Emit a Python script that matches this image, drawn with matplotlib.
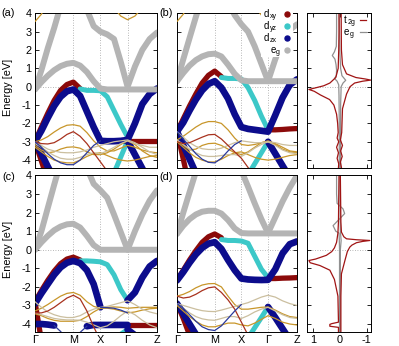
import numpy as np
import matplotlib
matplotlib.use('Agg')
import matplotlib.pyplot as plt
from matplotlib.patches import Rectangle

plt.rcParams['font.family'] = ['Liberation Sans', 'DejaVu Sans']
plt.rcParams['axes.unicode_minus'] = False
plt.rcParams['font.size'] = 7.8

# sample points along the k-path
kpts = [0.0, 0.236, 0.471, 0.707, 0.943, 1.179, 1.414, 1.664, 1.914, 2.164,
        2.414, 2.664, 2.914, 3.164, 3.414, 3.686, 3.957, 4.229, 4.5]
sym_k = [0.0, 1.414, 2.414, 3.414, 4.5]
sym_labels = ['Γ', 'M', 'X', 'Γ', 'Z']

# ---- panel (a) : (start index, energies) ----
a_xy = [(0, [-3.0, -2.2, -1.45, -0.75, -0.2, 0.12, 0.25, -0.1]),
        (14, [-2.95, -2.95, -2.95, -2.95, -2.95]),
        (0, [-3.0, -4.05, -5.1])]
a_yz = [(7, [-0.12, -0.2, -0.2, -0.22, -0.55, -1.3, -2.05, -2.75]),
        (12, [-4.7, -3.83, -2.95])]
a_zx = [(0, [-3.0, -2.4, -1.7, -1.05, -0.55, -0.25, -0.15, -0.5, -1.35, -2.2,
             -2.95, -2.97, -2.97, -2.95, -2.9, -2.0, -0.95, -0.4, -0.1]),
        (0, [-3.0, -3.65, -4.35, -5.0]),
        (14, [-2.95, -3.7, -4.45, -5.2])]
a_eg = [(0, [-0.15, 0.25, 0.6, 0.9, 1.12, 1.25, 1.3, 1.15, 0.8, 0.3, -0.1,
             -0.15, -0.15, -0.15, -0.15, -0.15, -0.15, -0.15, -0.15]),
        (0, [-0.15, 0.9, 2.1, 3.2, 4.4, 5.3, 5.6, 5.3, 4.2, 3.3, 3.0, 2.85,
             2.6, 1.35, 0.0, 1.1, 2.0, 2.6, 2.95])]
a_gold = [(0, [3.55, 3.95, 4.6, 5.2, 5.5, 5.5, 5.5, 5.5, 5.5, 5.5, 5.3, 4.8,
               4.3, 3.85, 3.65, 3.85, 4.3, 4.8, 5.2]),
          (0, [-3.0, -2.9, -2.72, -2.47, -2.25, -2.1, -2.07, -2.15, -2.5, -2.95,
               -3.3, -3.5, -3.5, -3.35, -3.2, -3.3, -3.45, -3.55, -3.6]),
          (0, [-3.2, -3.45, -3.6, -3.55, -3.4, -3.3, -3.28, -3.35, -3.55, -3.7,
               -3.7, -3.6, -3.4, -3.15, -2.95, -3.15, -3.5, -3.75, -3.85]),
          (0, [-3.3, -3.55, -3.8, -4.0, -4.1, -4.15, -4.15, -4.0, -3.8, -3.65,
               -3.6, -3.75, -3.9, -4.0, -4.05, -4.0, -3.9, -3.8, -3.75])]
a_tan = [(0, [-3.0, -3.2, -3.4, -3.5, -3.58, -3.6, -3.6, -3.55, -3.45, -3.3,
              -3.2, -3.1, -3.0, -2.95, -2.9, -3.05, -3.3, -3.55, -3.7]),
         (0, [-3.1, -3.3, -3.55, -3.75, -3.9, -3.95, -3.95, -3.85, -3.7, -3.6,
              -3.65, -3.5, -3.3, -3.1, -2.95, -3.1, -3.2, -3.3, -3.3])]
a_red = [(0, [-3.0, -3.1, -3.12, -3.05, -2.85, -2.6, -2.45, -2.7, -3.1, -3.6,
              -4.1, -4.6])]
a_blue = [(0, [-3.0, -3.3, -3.65, -3.95, -4.15, -4.25, -4.25, -4.0, -3.6, -3.2,
               -2.95])]

# ---- panel (b) ----
b_xy = [(0, [-2.45, -1.75, -1.05, -0.4, 0.2, 0.62, 0.85, 0.55]),
        (14, [-2.35, -2.35, -2.33, -2.3, -2.28]),
        (0, [-2.45, -3.95, -5.5])]
b_yz = [(7, [0.5, 0.45, 0.45, 0.42, -0.05, -0.75, -1.6, -2.35]),
        (11, [-4.8, -4.2, -3.6, -3.0])]
b_zx = [(0, [-2.45, -1.95, -1.3, -0.7, -0.2, 0.15, 0.3, -0.05, -0.65, -1.5,
             -2.2, -2.3, -2.35, -2.4, -2.45, -1.55, -0.6, 0.1, 0.4]),
        (0, [-2.45, -3.2, -3.95, -4.7]),
        (14, [-3.0, -3.65, -4.3, -4.95])]
b_eg = [(0, [0.3, 0.75, 1.15, 1.45, 1.65, 1.77, 1.8, 1.65, 1.2, 0.7, 0.35,
             0.3, 0.3, 0.3, 0.3, 0.3, 0.3, 0.3, 0.3]),
        (0, [0.3, 1.5, 2.65, 3.8, 4.9, 5.6, 6.0, 5.4, 4.6, 3.9, 3.4, 3.0,
             2.2, 1.25, 0.3, 1.5, 2.5, 3.1, 3.4])]
b_gold = [(0, [3.55, 3.95, 4.6, 5.2, 5.5, 5.5, 5.5, 5.5, 5.5, 5.5, 5.3, 4.8,
               4.4, 3.9, 3.7, 3.9, 4.4, 4.8, 5.2]),
          (0, [-2.9, -2.7, -2.45, -2.2, -2.0, -1.9, -1.9, -2.0, -2.35, -2.8,
               -3.15, -3.2, -3.15, -3.05, -3.0, -3.15, -3.4, -3.55, -3.6]),
          (0, [-2.9, -3.2, -3.45, -3.4, -3.2, -3.1, -3.08, -3.2, -3.4, -3.6,
               -3.7, -3.55, -3.3, -3.05, -2.95, -3.1, -3.3, -3.5, -3.55]),
          (0, [-3.0, -3.3, -3.6, -3.85, -4.0, -4.1, -4.1, -3.95, -3.75, -3.6,
               -3.55, -3.7, -3.85, -3.95, -4.0, -3.95, -3.85, -3.75, -3.7])]
b_tan = [(0, [-2.45, -2.75, -3.05, -3.25, -3.38, -3.42, -3.42, -3.35, -3.2,
              -3.05, -2.95, -3.0, -3.05, -3.05, -3.0, -3.05, -3.15, -3.2, -3.2]),
         (0, [-2.9, -3.15, -3.4, -3.6, -3.75, -3.8, -3.8, -3.75, -3.7, -3.7,
              -3.8, -3.6, -3.35, -3.15, -3.0, -3.2, -3.45, -3.6, -3.65])]
b_red = [(0, [-3.0, -3.1, -3.05, -2.9, -2.75, -2.62, -2.6, -2.85, -3.2, -3.55,
              -3.9, -4.4, -4.9])]
b_blue = [(0, [-2.45, -2.85, -3.25, -3.65, -3.95, -4.12, -4.15, -3.9, -3.5,
               -3.15, -2.95])]

# ---- panel (c) ----
c_xy = [(0, [-2.8, -2.2, -1.65, -1.15, -0.75, -0.5, -0.4, -0.55]),
        (14, [-4.05, -4.05, -4.05, -4.05, -4.05]),
        (0, [-2.8, -4.9])]
c_yz = [(7, [-0.6, -0.6, -0.62, -0.65, -0.8, -1.35, -2.15, -2.72]),
        (12, [-5.0, -4.55, -4.3])]
c_zx = [(0, [-2.9, -2.35, -1.85, -1.35, -0.95, -0.7, -0.6, -0.72, -1.1, -1.85,
             -3.1]),
        (14, [-2.72, -2.3, -1.5, -0.9, -0.6]),
        (0, [-4.0, -4.0, -4.03, -4.08]),
        (8, [-4.12, -4.05, -4.05, -4.05, -4.05, -4.05, -4.05]),
        (14, [-4.3, -4.6, -5.0])]
c_eg = [(0, [0.0, 0.4, 0.75, 1.05, 1.25, 1.37, 1.4, 1.2, 0.75, 0.25, 0.0,
             0.0, 0.0, 0.0, 0.0, 0.0, 0.0, 0.0, 0.0]),
        (0, [0.0, 1.0, 2.25, 3.5, 4.7, 5.3, 5.6, 5.2, 4.4, 3.55, 3.2, 2.8,
             1.9, 0.95, 0.0, 1.0, 1.9, 2.65, 3.2])]
c_gold = [(0, [-3.3, -3.15, -2.95, -2.72, -2.5, -2.35, -2.3, -2.45, -2.8,
               -3.05, -3.15, -3.15, -3.2, -3.3, -3.4, -3.35, -3.25, -3.18, -3.15]),
          (0, [-3.45, -3.55, -3.7, -3.8, -3.85, -3.85, -3.85, -3.8, -3.6,
               -3.35, -3.15, -3.1, -3.08, -3.1, -3.15, -3.12, -3.1, -3.1, -3.1])]
c_tan = [(0, [-2.8, -3.1, -3.35, -3.5, -3.6, -3.65, -3.65, -3.55, -3.35, -3.2,
              -3.1, -3.05, -2.95, -2.85, -2.75, -2.95, -3.2, -3.35, -3.45]),
         (0, [-3.4, -3.5, -3.6, -3.7, -3.75, -3.78, -3.78, -3.8, -3.9, -4.05,
              -4.2, -4.1, -3.85, -3.55, -3.3, -3.5, -3.8, -4.05, -4.2])]
c_red = [(0, [-3.4, -3.4, -3.3, -3.1, -2.85, -2.6, -2.45, -2.65, -3.3, -4.15,
              -4.9])]
c_blue = [(3, [-4.08, -4.4, -4.8]),
          (6, [-4.8, -4.45, -4.12]),
          (10, [-3.1, -3.12, -3.15, -3.25, -3.4])]

# ---- panel (d) ----
d_xy = [(0, [-1.65, -1.1, -0.55, -0.05, 0.4, 0.7, 0.85, 0.65]),
        (14, [-1.55, -1.55, -1.53, -1.52, -1.5]),
        (0, [-2.9, -3.7, -4.6])]
d_yz = [(7, [0.55, 0.5, 0.5, 0.47, 0.35, -0.35, -1.05, -1.5]),
        (11, [-4.75, -4.2, -3.65, -3.08])]
d_zx = [(0, [-1.65, -1.2, -0.7, -0.25, 0.1, 0.33, 0.41, 0.05, -0.55, -1.1,
             -1.55, -1.6, -1.62, -1.63, -1.62, -1.05, -0.2, 0.3, 0.45]),
        (0, [-2.9, -3.45, -4.0, -4.55]),
        (14, [-3.08, -3.65, -4.25, -4.85])]
d_eg = [(0, [0.86, 1.3, 1.65, 1.9, 2.05, 2.1, 2.1, 1.95, 1.6, 1.15, 0.9,
             0.88, 0.88, 0.88, 0.88, 0.88, 0.88, 0.88, 0.88]),
        (0, [0.86, 2.0, 3.1, 4.2, 5.2, 5.8, 6.0, 5.8, 5.2, 4.6, 4.25, 3.4,
             2.5, 1.65, 0.9, 1.75, 2.6, 3.35, 4.0])]
d_gold = [(0, [-2.5, -2.4, -2.25, -2.05, -1.9, -1.83, -1.82, -2.0, -2.5, -2.95,
               -3.2, -3.2, -3.15, -3.1, -3.08, -3.25, -3.45, -3.6, -3.65]),
          (0, [-3.0, -3.3, -3.6, -3.85, -4.05, -4.15, -4.15, -4.05, -3.95,
               -3.95, -4.05, -4.1, -3.95, -3.75, -3.55, -3.7, -3.9, -4.0, -4.05])]
d_tan = [(0, [-2.9, -3.0, -3.1, -3.2, -3.28, -3.32, -3.33, -3.25, -3.15, -3.05,
              -2.95, -2.85, -2.7, -2.55, -2.45, -2.55, -2.75, -2.9, -3.0]),
         (0, [-2.9, -3.15, -3.4, -3.6, -3.72, -3.78, -3.8, -3.7, -3.6, -3.6,
              -3.7, -3.55, -3.35, -3.2, -3.1, -3.3, -3.5, -3.65, -3.7])]
d_red = [(0, [-2.5, -2.6, -2.55, -2.4, -2.2, -2.05, -2.0, -2.3, -2.7, -3.2,
              -3.9, -4.6])]
d_blue = [(0, [-2.9, -3.15, -3.5, -3.85, -4.15, -4.3, -4.35, -4.1, -3.7, -3.3,
               -2.95])]

# ---- DOS, top row (energy, weight) ----
top_t2g_l_E = [4.0, 3.0, 2.0, 1.0, 0.5, 0.2, 0.05, -0.08, -0.15, -0.25, -0.45,
               -0.7, -1.0, -1.5, -2.0, -2.5, -2.8, -3.0, -3.3, -3.6, -3.9, -4.2, -4.4]
top_t2g_l = [0.03, 0.03, 0.04, 0.06, 0.15, 0.37, 0.6, 0.95, 1.15, 0.95, 0.72,
             0.38, 0.22, 0.12, 0.08, 0.06, 0.1, 0.04, 0.12, 0.05, 0.1, 0.04, 0.05]
top_t2g_r_E = [4.0, 2.0, 1.2, 0.7, 0.5, 0.42, 0.36, 0.3, 0.2, 0.0, -0.4, -1.2,
               -2.5, -2.9, -3.2, -3.5, -3.8, -4.1, -4.4]
top_t2g_r = [-0.05, -0.06, -0.1, -0.25, -0.6, -0.95, -1.15, -0.85, -0.55, -0.38,
             -0.25, -0.1, -0.07, -0.02, -0.1, -0.03, -0.09, -0.02, -0.06]
top_eg_l_E = [4.0, 3.0, 2.2, 1.9, 1.7, 1.5, 1.2, 0.9, 0.6, 0.45, 0.3, 0.1, -0.5,
              -2.0, -4.4]
top_eg_l = [0.12, 0.12, 0.13, 0.2, 0.28, 0.18, 0.14, 0.12, 0.13, 0.2, 0.1, 0.04,
            0.03, 0.02, 0.02]
top_eg_r_E = [4.0, 2.0, 1.0, 0.6, 0.35, 0.2, 0.0, -1.0, -4.4]
top_eg_r = [0.02, 0.0, -0.03, -0.08, -0.22, -0.12, -0.05, -0.03, -0.03]

# ---- DOS, bottom row ----
bot_t2g_l_E = [4.0, 1.5, 0.9, 0.4, 0.1, -0.1, -0.3, -0.5, -0.58, -0.7, -0.85,
               -1.1, -1.6, -2.5, -3.9, -3.98, -4.02, -4.12, -4.18, -4.4]
bot_t2g_l = [0.03, 0.05, 0.07, 0.12, 0.2, 0.3, 0.5, 0.9, 1.15, 1.1, 0.74, 0.37,
             0.2, 0.07, 0.05, 0.3, 0.37, 0.37, 0.05, 0.05]
bot_t2g_r_E = [4.0, 1.5, 0.95, 0.7, 0.59, 0.54, 0.5, 0.45, 0.38, 0.25, 0.14,
               -0.1, -0.58, -1.3, -2.5, -4.4]
bot_t2g_r = [-0.02, -0.04, -0.06, -0.15, -0.25, -0.62, -1.12, -0.85, -0.62,
             -0.45, -0.37, -0.28, -0.19, -0.06, -0.04, -0.04]
bot_eg_l_E = [4.0, 3.0, 2.5, 2.2, 1.95, 1.6, 1.3, 1.0, 0.9, 0.6, 0.0, -4.4]
bot_eg_l = [0.12, 0.12, 0.1, -0.12, -0.18, 0.05, 0.25, 0.15, 0.03, 0.02, 0.01, 0.01]
bot_eg_r_E = [4.0, 1.0, 0.5, 0.0, -4.4]
bot_eg_r = [0.0, -0.02, -0.05, -0.02, -0.02]

# key entries: (letter, subscript)
orb_keys = ['xy', 'yz', 'zx', 'eg']
orb_labels = [('d', 'xy'), ('d', 'yz'), ('d', 'zx'), ('e', 'g')]
dos_labels = [('t', '2g'), ('e', 'g')]

STYLE = {
    'xy': ('#8b0a0a', 3.8, 2.0),
    'yz': ('#3cc8c8', 3.6, 2.1),
    'zx': ('#0c0c8c', 4.8, 2.2),
    'eg': ('#b4b4b4', 4.3, 2.3),
    'gold': ('#c8962a', 0.9, 3.0),
    'tan': ('#cbbf9f', 0.9, 3.0),
    'red': ('#a8321e', 0.9, 3.1),
    'blue': ('#2b3a9c', 0.9, 3.1),
}
T2G_COL = '#a01414'
EG_COL = '#909090'
LETTER_W = {'d': 5.7, 'e': 5.7, 't': 3.2}   # pixel width of the key letters

W, H = 399, 346


def box(x0, y0, x1, y1):
    return [x0 / W, 1 - y1 / H, (x1 - x0) / W, (y1 - y0) / H]


def fx(px):
    return px / W


def fy(py):
    return 1 - py / H


def piece(start, vals):
    e = np.full(len(kpts), np.nan)
    e[start:start + len(vals)] = vals
    return e


def style_axes(ax):
    for s in ax.spines.values():
        s.set_linewidth(0.7)
    ax.set_ylim(-4.43, 4)
    ax.set_yticks(range(-4, 5))
    ax.axhline(0, color='#a0a0a0', lw=0.6, ls=(0, (1, 2)), zorder=1)
    ax.tick_params(axis='y', direction='in', length=3, width=0.6, right=True,
                   pad=2.5, labelsize=7.8)


def draw_bands(ax, bands, bottom, left):
    for key, pieces in bands:
        col, lw, z = STYLE[key]
        for start, vals in pieces:
            ax.plot(kpts, piece(start, vals), color=col, lw=lw, zorder=z,
                    solid_capstyle='round', solid_joinstyle='round')
    for kx in sym_k[1:-1]:
        ax.axvline(kx, color='#a0a0a0', lw=0.6, ls=(0, (1, 2)), zorder=1)
    ax.set_xlim(0, 4.5)
    style_axes(ax)
    ax.set_xticks(sym_k)
    ax.tick_params(axis='x', length=0, pad=2.5, labelsize=7.8)
    if bottom:
        ax.set_xticklabels(sym_labels)
    else:
        ax.set_xticklabels([])
    if not left:
        ax.set_yticklabels([])


def draw_dos(ax, curves, bottom):
    for E, x, col in curves:
        ax.plot(x, E, color=col, lw=0.9)
    ax.set_xlim(1.22, -1.16)
    style_axes(ax)
    ax.set_yticklabels([])
    ax.set_xticks([1, 0, -1])
    ax.tick_params(axis='x', direction='in', length=3, width=0.6, top=True,
                   pad=2.5, labelsize=7.8)
    if not bottom:
        ax.set_xticklabels([])


def key_label(x, y, letter, sub):
    # letter plus a small lowered subscript, left edge at x (pixels)
    fig.text(fx(x), fy(y), letter, ha='left', va='center', fontsize=7, zorder=6)
    fig.text(fx(x + LETTER_W[letter]), fy(y + 2.2), sub, ha='left', va='center',
             fontsize=5, zorder=6)


fig = plt.figure(figsize=(W / 100, H / 100), dpi=100)

ax_a = fig.add_axes(box(35, 13.3, 157, 168))
ax_b = fig.add_axes(box(177, 13.3, 297, 168))
ax_t = fig.add_axes(box(307, 13.3, 371, 168))
ax_c = fig.add_axes(box(35, 175.5, 157, 332))
ax_d = fig.add_axes(box(177, 175.5, 297, 332))
ax_u = fig.add_axes(box(307, 175.5, 371, 332))

draw_bands(ax_a, [('xy', a_xy), ('yz', a_yz), ('zx', a_zx), ('eg', a_eg),
                  ('gold', a_gold), ('tan', a_tan), ('red', a_red), ('blue', a_blue)],
           False, True)
draw_bands(ax_b, [('xy', b_xy), ('yz', b_yz), ('zx', b_zx), ('eg', b_eg),
                  ('gold', b_gold), ('tan', b_tan), ('red', b_red), ('blue', b_blue)],
           False, False)
draw_bands(ax_c, [('xy', c_xy), ('yz', c_yz), ('zx', c_zx), ('eg', c_eg),
                  ('gold', c_gold), ('tan', c_tan), ('red', c_red), ('blue', c_blue)],
           True, True)
draw_bands(ax_d, [('xy', d_xy), ('yz', d_yz), ('zx', d_zx), ('eg', d_eg),
                  ('gold', d_gold), ('tan', d_tan), ('red', d_red), ('blue', d_blue)],
           True, False)

draw_dos(ax_t, [(top_eg_l_E, top_eg_l, EG_COL), (top_eg_r_E, top_eg_r, EG_COL),
                (top_t2g_l_E, top_t2g_l, T2G_COL), (top_t2g_r_E, top_t2g_r, T2G_COL)],
         False)
draw_dos(ax_u, [(bot_eg_l_E, bot_eg_l, EG_COL), (bot_eg_r_E, bot_eg_r, EG_COL),
                (bot_t2g_l_E, bot_t2g_l, T2G_COL), (bot_t2g_r_E, bot_t2g_r, T2G_COL)],
         True)

# orbital key in panel (b), gnuplot style: opaque box, text then a dot
key_bg = Rectangle((fx(261), fy(57)), fx(293) - fx(261), fy(8) - fy(57),
                   transform=fig.transFigure, facecolor='white', edgecolor='none',
                   zorder=5)
fig.add_artist(key_bg)
for i, (key, (letter, sub)) in enumerate(zip(orb_keys, orb_labels)):
    yy = 14 + 12 * i
    key_label(270.5 if letter == 'e' else 264, yy, letter, sub)
    fig.lines.append(plt.Line2D([fx(286.5)], [fy(yy)], ls='none', marker='o',
                                ms=3.6, color=STYLE[key][0],
                                transform=fig.transFigure, zorder=6))

# key of the DOS panel
for i, ((letter, sub), col) in enumerate(zip(dos_labels, [T2G_COL, EG_COL])):
    yy = 20 + 12 * i
    key_label(344, yy, letter, sub)
    fig.lines.append(plt.Line2D([fx(360), fx(366)], [fy(yy), fy(yy)], lw=0.9,
                                color=col, transform=fig.transFigure, zorder=6))

for lab, x, y in [('(a)', 8.5, 13.3), ('(b)', 166.5, 13.3),
                  ('(c)', 8.5, 177), ('(d)', 166.5, 177)]:
    fig.text(fx(x), fy(y), lab, ha='center', va='center', fontsize=7.8)
for y in [87, 249.5]:
    fig.text(fx(8.5), fy(y), 'Energy [eV]', rotation=90, ha='center',
             va='center', fontsize=7.8)

fig.savefig('out.png', dpi=100)
